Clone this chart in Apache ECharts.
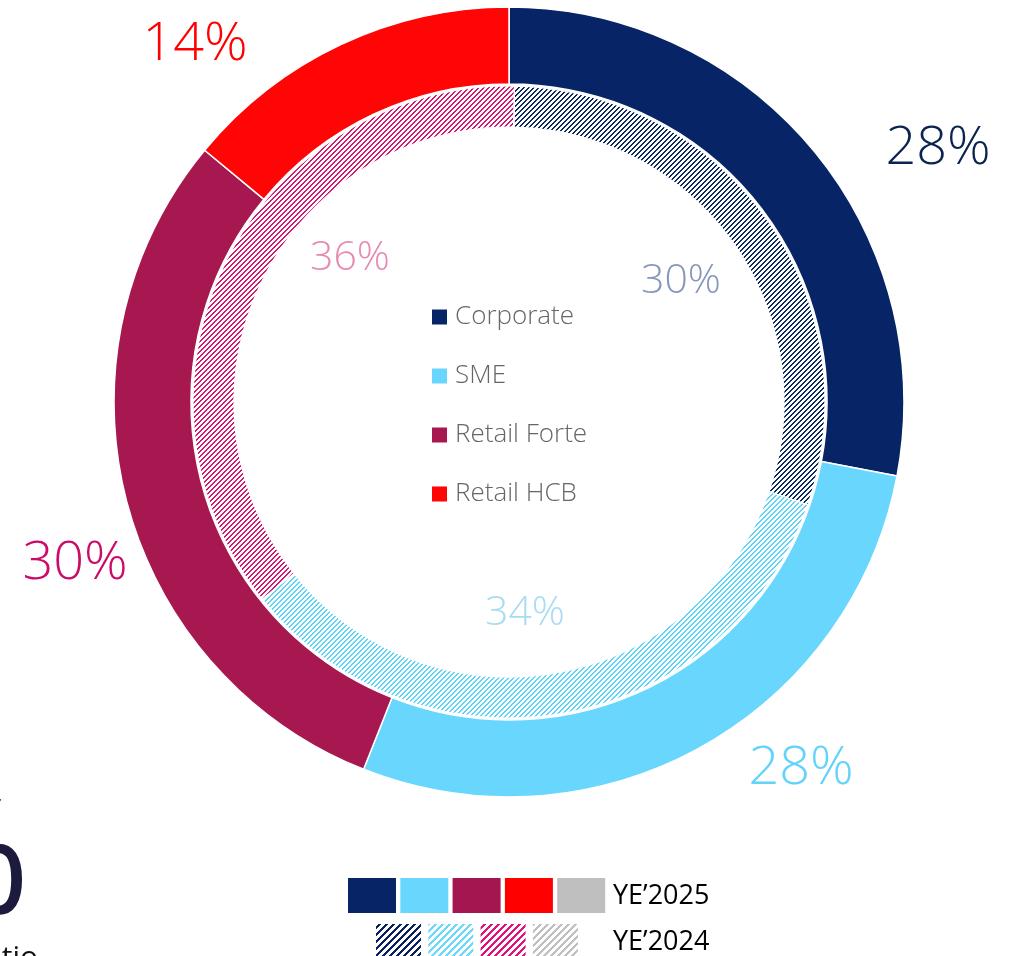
<!DOCTYPE html>
<html><head><meta charset="utf-8">
<script src="https://cdn.jsdelivr.net/npm/echarts@6/dist/echarts.min.js"></script>
<style>html,body{margin:0;padding:0;background:#fff;overflow:hidden}#c{width:1020px;height:956px}</style>
</head><body><div id="c"></div>
<script>
// ---- data ----
const categories = ['Corporate', 'SME', 'Retail Forte', 'Retail HCB'];
const ye2025 = [28, 28, 30, 14];
const ye2024 = [30, 34, 36, 0];
const periodLabels = ['YE\u20192025', 'YE\u20192024'];
const sideBigText = '%';
const sideSmallText = 'Ratio';

// ---- styles / layout ----
const solidColors = ['#062466', '#69d7fd', '#a6184f', '#ff0505'];
const hatchColors = ['#0b2a5e', '#5fd4f8', '#d6166c', '#ff0505'];
const outerLabelColors = ['#0a2450', '#63d3fb', '#cc0a68', '#ff0000'];
const innerLabelColors = ['#8597b9', '#a8dcf2', '#e78ab3', '#ff8080'];
const outerLabelPos = [[938, 149], [801, 769], [75, 564], [195, 45]];
const innerLabelPos = [[681, 281], [525, 613], [350, 258], [509, 200]];
const legendSolid = ['#062466', '#69d7fd', '#a31650', '#ff0000', '#bfbfbf'];
const legendHatch = ['#0a2264', '#6cd8fb', '#e0117a', '#c0c0c0'];
const FONT = '"Open Sans", "Noto Sans", sans-serif';

function hatch(color, period, band) {
  const c = document.createElement('canvas');
  c.width = period; c.height = period;
  const ctx = c.getContext('2d');
  ctx.fillStyle = '#fff'; ctx.fillRect(0, 0, period, period);
  ctx.fillStyle = color;
  for (let x = 0; x < period; x++)
    for (let y = 0; y < period; y++)
      if ((x + y) % period < band) ctx.fillRect(x, y, 1, 1);
  return c;
}

const chart = echarts.init(document.getElementById('c'), null, { renderer: 'canvas' });

const graphics = [];
legendSolid.forEach((col, i) => {
  graphics.push({ type: 'rect', shape: { x: 348 + i * 52.3, y: 878, width: 48, height: 35 }, style: { fill: col }, silent: true });
});
legendHatch.forEach((col, i) => {
  graphics.push({ type: 'rect', shape: { x: 376 + i * 52.3, y: 924, width: 45, height: 35 },
    style: { fill: { image: hatch(col, 7, 3), repeat: 'repeat' } }, silent: true });
});
periodLabels.forEach((t, i) => {
  graphics.push({ type: 'text', x: 613, y: 896 + i * 46, style: { text: t, font: '27px ' + FONT, fill: '#000', align: 'left', verticalAlign: 'middle' }, silent: true });
});
graphics.push({ type: 'text', x: 30, y: 867, style: { text: sideBigText, font: '160px ' + FONT, fill: '#1c1a3d', align: 'right', verticalAlign: 'middle' }, silent: true });
graphics.push({ type: 'text', x: 38, y: 958, style: { text: sideSmallText, font: '30px ' + FONT, fill: '#111', align: 'right', verticalAlign: 'middle' }, silent: true });

chart.setOption({
  animation: false,
  backgroundColor: '#fff',
  legend: {
    data: categories, orient: 'vertical', left: 432, top: 304, padding: 0,
    itemWidth: 15, itemHeight: 15, itemGap: 33, icon: 'rect',
    selectedMode: false,
    itemStyle: { borderWidth: 0 },
    textStyle: { fontSize: 26, lineHeight: 26, color: '#666', fontFamily: FONT, fontWeight: 300, padding: [0, 0, 0, 3] }
  },
  graphic: graphics,
  series: [
    {
      type: 'pie', name: periodLabels[0], center: [509, 402], radius: [318, 395],
      startAngle: 90, clockwise: true, avoidLabelOverlap: false,
      itemStyle: { borderColor: '#fff', borderWidth: 1.5 },
      label: { show: true, position: 'outside', formatter: p => p.value + '%', fontSize: 54, fontFamily: FONT, fontWeight: 300 },
      labelLine: { show: false },
      labelLayout: p => ({ x: outerLabelPos[p.dataIndex][0], y: outerLabelPos[p.dataIndex][1], align: 'center', verticalAlign: 'middle' }),
      emphasis: { disabled: true },
      data: categories.map((n, i) => ({ name: n, value: ye2025[i], itemStyle: { color: solidColors[i] }, label: { color: outerLabelColors[i] } }))
    },
    {
      type: 'pie', name: periodLabels[1], center: [509, 402], radius: [275, 316],
      startAngle: 89, clockwise: true, avoidLabelOverlap: false,
      itemStyle: { borderColor: '#fff', borderWidth: 1.2 },
      label: { show: true, position: 'outside', formatter: p => (p.value ? p.value + '%' : ''), fontSize: 41, fontFamily: FONT, fontWeight: 300 },
      labelLine: { show: false },
      labelLayout: p => ({ x: innerLabelPos[p.dataIndex][0], y: innerLabelPos[p.dataIndex][1], align: 'center', verticalAlign: 'middle' }),
      emphasis: { disabled: true },
      data: categories.map((n, i) => ({ name: n, value: ye2024[i], itemStyle: { color: { image: hatch(hatchColors[i], 5, 2), repeat: 'repeat' } }, label: { color: innerLabelColors[i] } }))
    }
  ]
});
</script>
</body></html>
